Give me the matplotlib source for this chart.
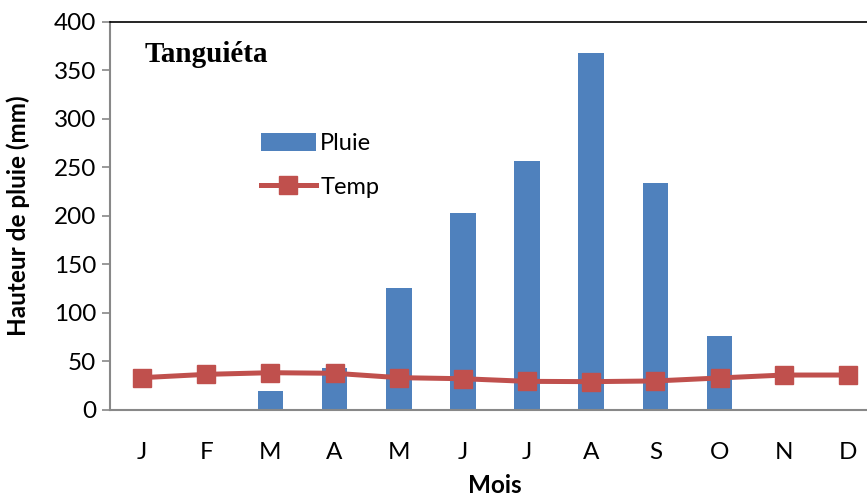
import matplotlib
matplotlib.use("Agg")
import matplotlib.pyplot as plt
import numpy as np

months = ["J", "F", "M", "A", "M", "J", "J", "A", "S", "O", "N", "D"]
pluie = [0, 0, 20, 43, 126, 203, 256, 368, 234, 76, 0, 0]
temp = [33.3, 36.7, 38.4, 37.8, 33.3, 32.2, 29.5, 29.2, 29.9, 33.0, 36.0, 36.0]

BLUE = "#4F81BD"
RED = "#C0504D"

plt.rcParams["font.family"] = ["Lato", "DejaVu Sans"]

fig = plt.figure(figsize=(8.67, 4.97), dpi=100)
ax = fig.add_axes([110 / 867, 87 / 497, 770 / 867, 388.5 / 497])

x = np.arange(len(months))
bars = ax.bar(x, pluie, width=0.4, color=BLUE, label="Pluie", zorder=2)
line, = ax.plot(x, temp, color=RED, linewidth=3.6, marker="s", markersize=13.5,
                label="Temp", zorder=3)

ax.set_xlim(-0.5, 11.5)
ax.set_ylim(0, 400)
ax.set_yticks(range(0, 401, 50))
ax.set_xticks(x)
ax.set_xticklabels(months)

ax.tick_params(axis="y", direction="out", length=6, width=1.2, color="#888888",
               labelsize=17.5, pad=4)
ax.tick_params(axis="x", length=0, labelsize=17.5, pad=23)

for side in ["left", "bottom"]:
    ax.spines[side].set_color("#888888")
    ax.spines[side].set_linewidth(1.5)
ax.spines["top"].set_color("black")
ax.spines["top"].set_linewidth(1.2)
ax.spines["right"].set_visible(False)

ax.set_xlabel("Mois", fontsize=17.5, fontweight="bold", labelpad=8)
ax.set_ylabel("Hauteur de pluie (mm)", fontsize=17.5, fontweight="bold", labelpad=17)

ax.text(0.045, 0.915, "Tanguiéta", transform=ax.transAxes, fontsize=21,
        fontweight="bold", family="Liberation Serif", ha="left", va="center")

ax.legend([bars, line], ["Pluie", "Temp"], loc="upper left",
          bbox_to_anchor=(0.175, 0.755), frameon=False, fontsize=17,
          handlelength=2.3, handleheight=0.8, handletextpad=0.2,
          labelspacing=0.95, borderpad=0.2)

fig.savefig("out.png", dpi=100)
